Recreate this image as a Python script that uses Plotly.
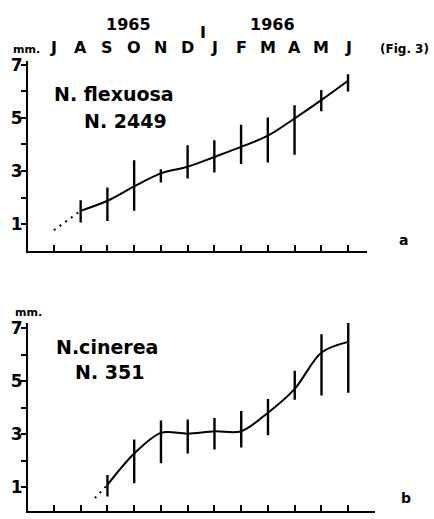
import numpy as np
import plotly.graph_objects as go

W, H = 434, 519

months = ["J", "A", "S", "O", "N", "D", "J", "F", "M", "A", "M", "J"]
years = ["1965", "1966"]

# Panel a: N. flexuosa (N. 2449) - month index, mean, upper, lower
a_x = [1, 2, 3, 4, 5, 6, 7, 8, 9, 10, 11]
a_mean = [1.50, 1.88, 2.42, 2.91, 3.16, 3.53, 3.91, 4.33, 4.98, 5.67, 6.40]
a_high = [1.90, 2.38, 3.41, 3.07, 3.97, 4.16, 4.74, 5.02, 5.48, 6.05, 6.65]
a_low = [1.06, 1.12, 1.50, 2.57, 2.72, 2.94, 3.26, 3.32, 3.61, 5.25, 6.00]
a_dot_x = [0, 1]
a_dot_y = [0.77, 1.50]

# Panel b: N. cinerea (N. 351)
b_x = [2, 3, 4, 5, 6, 7, 8, 9, 10, 11]
b_mean = [1.09, 2.27, 3.05, 3.02, 3.11, 3.11, 3.81, 4.71, 6.08, 6.48]
b_high = [1.46, 2.80, 3.52, 3.55, 3.61, 3.87, 4.33, 5.39, 6.77, 7.20]
b_low = [0.65, 1.15, 1.90, 2.27, 2.42, 2.50, 2.96, 4.30, 4.46, 4.56]
b_dot_x = [1.53, 2]
b_dot_y = [0.59, 1.09]

ytick_vals = [1, 2, 3, 4, 5, 6, 7]
ytick_text = ["1", "", "3", "", "5", "", "7"]

FONT = "DejaVu Sans"


def px(x):
    return x / W


def py(y):
    return 1 - y / H


fig = go.Figure()


def add_panel(xs, mean, high, low, dx, dy, xa, ya):
    mean = np.array(mean)
    plus = np.array(high) - mean
    minus = mean - np.array(low)
    fig.add_trace(go.Scatter(
        x=dx, y=dy, mode="lines", xaxis=xa, yaxis=ya,
        line=dict(color="black", width=2, dash="2px,5px"),
        showlegend=False, hoverinfo="skip"))
    fig.add_trace(go.Scatter(
        x=xs, y=mean, mode="lines", xaxis=xa, yaxis=ya,
        line=dict(color="black", width=2, shape="spline", smoothing=0.9),
        error_y=dict(type="data", symmetric=False, array=plus, arrayminus=minus,
                     color="black", thickness=2.4, width=0),
        showlegend=False))


add_panel(a_x, a_mean, a_high, a_low, a_dot_x, a_dot_y, "x", "y")
add_panel(b_x, b_mean, b_high, b_low, b_dot_x, b_dot_y, "x2", "y2")

xcommon = dict(showline=True, linecolor="black", linewidth=2, ticks="inside",
               ticklen=6, tickwidth=2, tickcolor="black", showticklabels=False,
               showgrid=False, zeroline=False, tickmode="array",
               tickvals=list(range(12)), fixedrange=True)
ycommon = dict(showline=True, linecolor="black", linewidth=2, ticks="outside",
               ticklen=5, tickwidth=2, tickcolor="black", showgrid=False,
               zeroline=False, tickmode="array", tickvals=ytick_vals,
               ticktext=ytick_text, ticklabelstandoff=-5,
               tickfont=dict(family=FONT, size=17, color="black", weight="bold"))

fig.update_layout(
    width=W, height=H, margin=dict(l=0, r=0, t=0, b=0),
    paper_bgcolor="white", plot_bgcolor="white",
    xaxis=dict(xcommon, domain=[px(28), px(367)], range=[-0.97, 11.71], anchor="y"),
    yaxis=dict(ycommon, domain=[py(247.5), py(55.5)], range=[0, 7.15], anchor="x"),
    xaxis2=dict(xcommon, domain=[px(28), px(375)], range=[-0.97, 12.0], anchor="y2"),
    yaxis2=dict(ycommon, domain=[py(511), py(320.5)], range=[0.1, 7.2], anchor="x2"),
)

ann = []


def text(x, y, s, size, xref="paper", xanchor="center"):
    ann.append(dict(x=x if xref != "paper" else px(x), y=py(y), xref=xref, yref="paper",
                    text=s, showarrow=False, xanchor=xanchor, yanchor="middle",
                    font=dict(family=FONT, size=size, color="black", weight="bold")))


for i, m in enumerate(months):
    text(i, 42, m, 16, xref="x")
text(128, 19, years[0], 16)
text(272, 19, years[1], 16)
text(203, 27, "I", 16)
text(11, 44, "mm.", 11, xanchor="left")
text(404, 44, "(Fig. 3)", 12)
text(52, 89, "N. flexuosa", 19, xanchor="left")
text(82, 116, "N. 2449", 19, xanchor="left")
text(403, 237, "a", 14)
text(13, 310, "mm.", 11, xanchor="left")
text(54, 345, "N.cinerea", 19, xanchor="left")
text(73, 370, "N. 351", 19, xanchor="left")
text(406, 498, "b", 14)

fig.update_layout(annotations=ann)
fig.write_html("out.html")
